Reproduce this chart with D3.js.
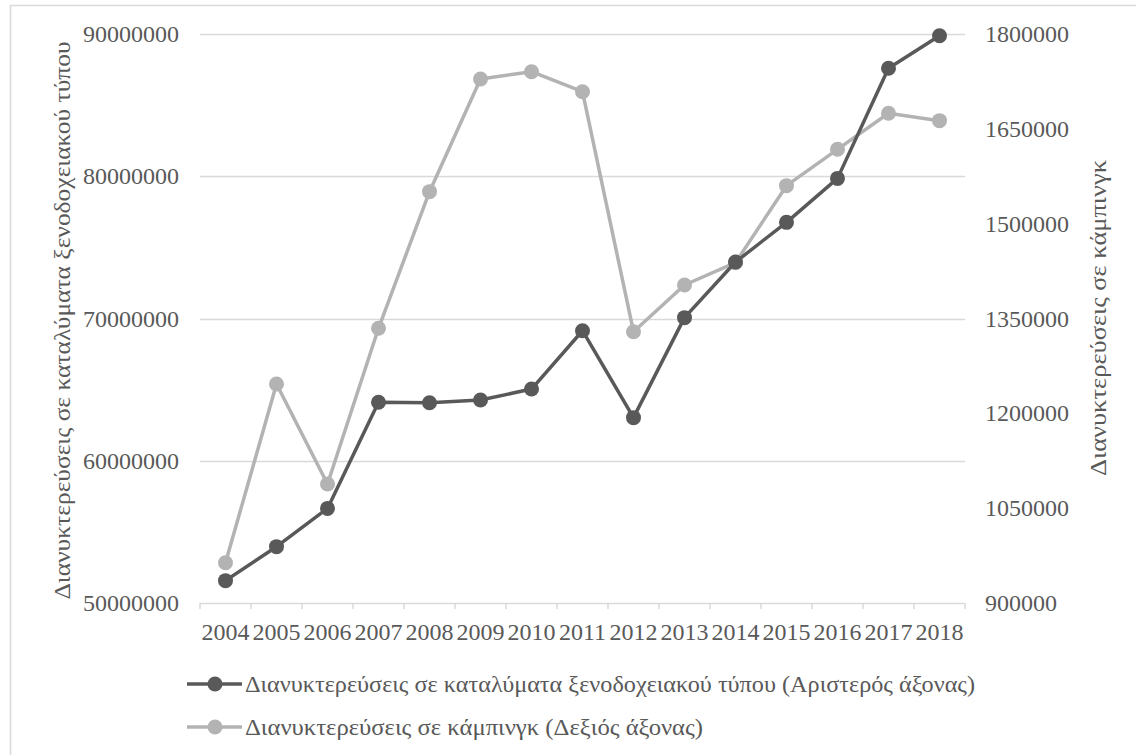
<!DOCTYPE html>
<html>
<head>
<meta charset="utf-8">
<script src="https://cdn.jsdelivr.net/npm/d3@7"></script>
<style>
  html, body { margin: 0; padding: 0; background: #fff; }
  svg { display: block; }
  text { font-family: "Liberation Serif", "Times New Roman", serif; fill: #595959; }
</style>
</head>
<body>
<svg id="chart" width="1136" height="755"></svg>
<script>
// Years on the category axis
const years = ["2004","2005","2006","2007","2008","2009","2010","2011","2012","2013","2014","2015","2016","2017","2018"];

// Overnight stays in hotel-type accommodation (left axis)
const hotelStays = [51570000, 53960000, 56650000, 64110000, 64080000, 64270000, 65040000, 69140000, 63030000, 70060000, 73970000, 76760000, 79850000, 87590000, 89880000];

// Overnight stays in camping (right axis)
const campingStays = [963750, 1246400, 1088200, 1334500, 1550600, 1728800, 1740400, 1708700, 1329100, 1403000, 1438300, 1560100, 1617600, 1674600, 1662900];

// Axis ticks
const leftTicks = [50000000, 60000000, 70000000, 80000000, 90000000];
const rightTicks = [900000, 1050000, 1200000, 1350000, 1500000, 1650000, 1800000];

const leftTitle = "Διανυκτερεύσεις σε καταλύματα ξενοδοχειακού τύπου";
const rightTitle = "Διανυκτερεύσεις σε κάμπινγκ";
const legendLabels = [
  "Διανυκτερεύσεις σε καταλύματα ξενοδοχειακού τύπου (Αριστερός άξονας)",
  "Διανυκτερεύσεις σε κάμπινγκ (Δεξιός άξονας)"
];

const colors = ["#595959", "#b3b3b3"];
const gridColor = "#d9d9d9";

const svg = d3.select("#chart");
const plot = { left: 200, right: 965, top: 34, bottom: 603 };

// Outer frame
svg.append("rect")
  .attr("x", 10.5).attr("y", 5.5)
  .attr("width", 1140).attr("height", 770)
  .attr("fill", "none").attr("stroke", gridColor).attr("stroke-width", 1.5);

const x = d3.scaleBand().domain(years).range([plot.left, plot.right]).padding(0);
const yL = d3.scaleLinear().domain([50000000, 90000000]).range([plot.bottom, plot.top]);
const yR = d3.scaleLinear().domain([900000, 1800000]).range([plot.bottom, plot.top]);

// Horizontal gridlines
svg.append("g").selectAll("line").data(leftTicks.slice(1)).join("line")
  .attr("x1", plot.left).attr("x2", plot.right)
  .attr("y1", d => Math.round(yL(d)) + 0.5).attr("y2", d => Math.round(yL(d)) + 0.5)
  .attr("stroke", gridColor).attr("stroke-width", 1.5);

// Category axis with ticks at the band boundaries
const xAxisG = svg.append("g").attr("transform", `translate(0,${plot.bottom})`);
xAxisG.append("line")
  .attr("x1", plot.left).attr("x2", plot.right)
  .attr("y1", 0.5).attr("y2", 0.5)
  .attr("stroke", gridColor).attr("stroke-width", 1.5);
const boundaries = years.map(d => x(d)).concat([x(years[years.length - 1]) + x.bandwidth()]);
xAxisG.selectAll("line.tick").data(boundaries).join("line")
  .attr("class", "tick")
  .attr("x1", d => d).attr("x2", d => d)
  .attr("y1", 0).attr("y2", 6)
  .attr("stroke", gridColor).attr("stroke-width", 1.5);
xAxisG.selectAll("text").data(years).join("text")
  .attr("x", d => x(d) + x.bandwidth() / 2)
  .attr("y", 37)
  .attr("text-anchor", "middle")
  .attr("font-size", 24)
  .text(d => d);

// Left value axis labels
const fmt = d3.format("d");
svg.append("g").selectAll("text").data(leftTicks).join("text")
  .attr("x", 179).attr("y", d => yL(d) + 8)
  .attr("text-anchor", "end").attr("font-size", 24)
  .text(d => fmt(d));

// Right value axis labels
svg.append("g").selectAll("text").data(rightTicks).join("text")
  .attr("x", 985).attr("y", d => yR(d) + 8)
  .attr("text-anchor", "start").attr("font-size", 24)
  .text(d => fmt(d));

// Axis titles
svg.append("text")
  .attr("transform", `translate(70,${(plot.top + plot.bottom) / 2 + 2}) rotate(-90)`)
  .attr("text-anchor", "middle").attr("font-size", 24)
  .attr("textLength", 558).attr("lengthAdjust", "spacingAndGlyphs")
  .text(leftTitle);
svg.append("text")
  .attr("transform", `translate(1106,318) rotate(-90)`)
  .attr("text-anchor", "middle").attr("font-size", 24)
  .attr("textLength", 316).attr("lengthAdjust", "spacingAndGlyphs")
  .text(rightTitle);

// Series lines and markers
const series = [
  { values: hotelStays, y: yL, color: colors[0] },
  { values: campingStays, y: yR, color: colors[1] }
];
// draw lighter series first so the darker one sits on top where they cross
[series[1], series[0]].forEach(s => {
  const pts = years.map((yr, i) => [x(yr) + x.bandwidth() / 2, s.y(s.values[i])]);
  svg.append("path")
    .attr("d", d3.line()(pts))
    .attr("fill", "none").attr("stroke", s.color)
    .attr("stroke-width", 3.5).attr("stroke-linejoin", "round");
  svg.append("g").selectAll("circle").data(pts).join("circle")
    .attr("cx", d => d[0]).attr("cy", d => d[1]).attr("r", 7.5)
    .attr("fill", s.color);
});

// Legend
const legend = svg.append("g");
const legendWidths = [730, 458];
legendLabels.forEach((lab, i) => {
  const cy = 684 + i * 43;
  legend.append("line")
    .attr("x1", 187).attr("x2", 242).attr("y1", cy).attr("y2", cy)
    .attr("stroke", colors[i]).attr("stroke-width", 3.5);
  legend.append("circle").attr("cx", 215).attr("cy", cy).attr("r", 7.5).attr("fill", colors[i]);
  legend.append("text")
    .attr("x", 245).attr("y", cy + 8)
    .attr("font-size", 23)
    .attr("textLength", legendWidths[i]).attr("lengthAdjust", "spacingAndGlyphs")
    .text(lab);
});
</script>
</body>
</html>
